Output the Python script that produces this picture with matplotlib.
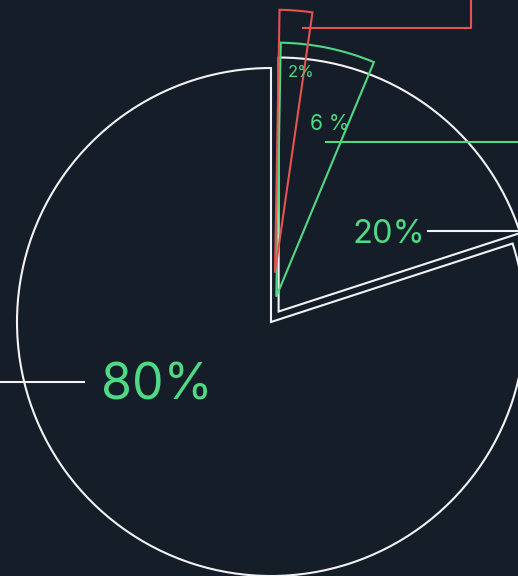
import matplotlib
matplotlib.use('Agg')
from matplotlib import pyplot as plt

# canvas and palette
W, H = 518, 576
BG = '#141d28'
WHITE = '#f2f2f2'
GREEN = '#4fd985'
RED = '#e5534f'

# pie centre and radius on the canvas (px, y measured from the top)
CX, CY, R = 271, 322, 254

# main split and the two highlighted shares inside the small slice
main_labels = ['20%', '80%']
main_shares = [20, 80]
mid_share = 6
small_share = 2

# label anchors (left / baseline, px) and font sizes in pt
label_pos = {'80%': (101, 400), '20%': (352, 243), '6 %': (310, 130), '2%': (288, 77)}
label_size = {'80%': 36, '20%': 23.5, '6 %': 15, '2%': 12}


def to_data(x, y):
    return (x - CX) / R, (CY - y) / R


def hollow_pie(ax, shares, edge, explode, radius=1.0, start=90, hide_rest=False):
    wedges, _ = ax.pie(shares, startangle=start, counterclock=False, radius=radius,
                       explode=explode,
                       wedgeprops=dict(facecolor='none', edgecolor=edge, linewidth=1.5))
    if hide_rest:
        for w in wedges[1:]:
            w.set_visible(False)
    return wedges


fig = plt.figure(figsize=(W / 100, H / 100), dpi=100, facecolor=BG)
ax = fig.add_axes([0, 0, 1, 1])
ax.set_facecolor(BG)

hollow_pie(ax, main_shares, WHITE, [0.051, 0])
hollow_pie(ax, [mid_share, 100 - mid_share], GREEN, [0.102, 0], start=89, hide_rest=True)
hollow_pie(ax, [small_share, 100 - small_share], RED, [0.195, 0], radius=1.035, start=89,
           hide_rest=True)

# leader lines
def leader(points, color):
    xs, ys = zip(*[to_data(x, y) for x, y in points])
    ax.plot(xs, ys, color=color, linewidth=1.5, solid_capstyle='butt', clip_on=False)

leader([(0, 382), (85, 382)], WHITE)
leader([(427, 231), (W, 231)], WHITE)
leader([(325, 142), (W, 142)], GREEN)
leader([(302, 28), (471, 28), (471, 0)], RED)

for text, (x, y) in label_pos.items():
    tx, ty = to_data(x, y)
    ax.text(tx, ty, text, color=GREEN, fontsize=label_size[text], family='Inter',
            ha='left', va='baseline')

ax.set_xlim(-CX / R, (W - CX) / R)
ax.set_ylim((CY - H) / R, CY / R)
ax.set_aspect('equal')
ax.axis('off')

fig.savefig('out.png', dpi=100, facecolor=BG)
